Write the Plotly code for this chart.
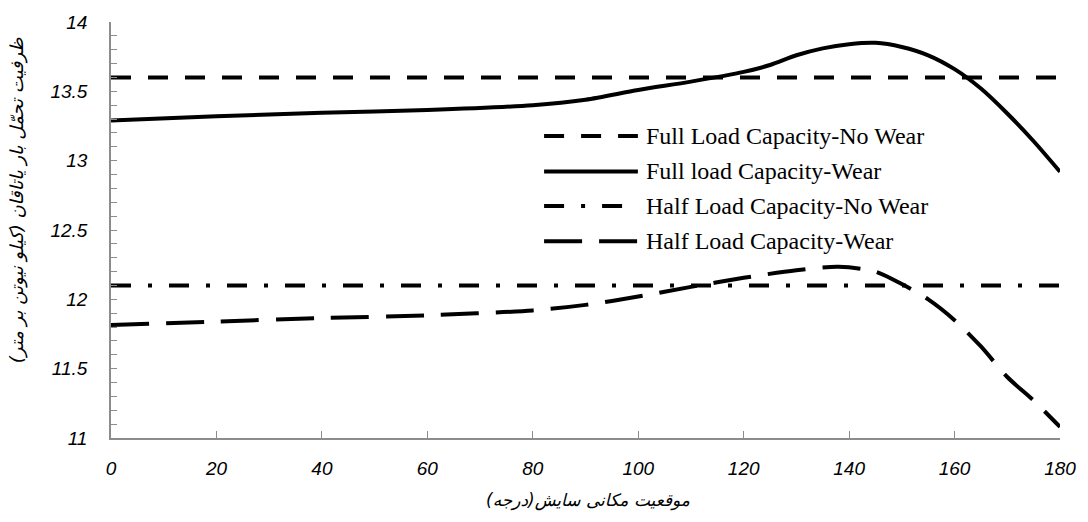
import plotly.graph_objects as go

# ---------------- data ----------------
angle_full_wear = [0, 20, 40, 60, 80, 90, 100, 110, 120, 125, 130, 135, 140, 145, 150, 155, 160, 165, 170, 175, 180]
cap_full_wear = [13.29, 13.32, 13.345, 13.365, 13.40, 13.44, 13.51, 13.57, 13.64, 13.69, 13.76, 13.81, 13.84, 13.85,
                 13.82, 13.76, 13.66, 13.52, 13.34, 13.14, 12.92]

angle_half_wear = [0, 20, 40, 60, 80, 90, 100, 110, 120, 130, 138, 145, 150, 155, 160, 165, 170, 175, 180]
cap_half_wear = [11.815, 11.84, 11.865, 11.885, 11.92, 11.96, 12.02, 12.09, 12.155, 12.21, 12.235, 12.20, 12.11,
                 12.00, 11.85, 11.66, 11.44, 11.27, 11.08]

angle_const = [0, 180]
cap_full_nowear = [13.6, 13.6]
cap_half_nowear = [12.1, 12.1]

series_names = ["Full Load Capacity-No Wear", "Full load Capacity-Wear",
                "Half Load Capacity-No Wear", "Half Load Capacity-Wear"]
x_ticks = [0, 20, 40, 60, 80, 100, 120, 140, 160, 180]
x_tick_text = ["0", "20", "40", "60", "80", "100", "120", "140", "160", "180"]
y_ticks = [11, 11.5, 12, 12.5, 13, 13.5, 14]
y_tick_text = ["11", "11.5", "12", "12.5", "13", "13.5", "14"]

x_title = "موقعیت مکانی سایش(درجه)"
y_title = "ظرفیت تحمّل بار یاتاقان (کیلو نیوتن بر متر)"

# ---------------- styles ----------------
LW = 4
dashes = ["20px,17px", "solid", "20px,17px,4px,17px", "38px,17px"]

fig = go.Figure()
fig.add_trace(go.Scatter(x=angle_const, y=cap_full_nowear, mode="lines", name=series_names[0],
                         line=dict(color="black", width=LW, dash=dashes[0])))
fig.add_trace(go.Scatter(x=angle_full_wear, y=cap_full_wear, mode="lines", name=series_names[1],
                         line=dict(color="black", width=LW, dash=dashes[1], shape="spline", smoothing=0.8)))
fig.add_trace(go.Scatter(x=angle_const, y=cap_half_nowear, mode="lines", name=series_names[2],
                         line=dict(color="black", width=LW, dash=dashes[2])))
fig.add_trace(go.Scatter(x=angle_half_wear, y=cap_half_wear, mode="lines", name=series_names[3],
                         line=dict(color="black", width=LW, dash=dashes[3], shape="spline", smoothing=0.8)))

W, H = 1088, 522
L, R, T, B = 111, 26, 15, 84
pw, ph = W - L - R, H - T - B


def px2paper_x(px):
    return (px - L) / pw


def px2paper_y(py):
    return (H - B - py) / ph


# custom legend (long samples like the reference)
row_y = [131, 167, 202, 238]
shapes = []
annotations = []
for i, name in enumerate(series_names):
    yy = px2paper_y(row_y[i])
    shapes.append(dict(type="line", xref="paper", yref="paper",
                       x0=px2paper_x(545), x1=px2paper_x(639), y0=yy, y1=yy,
                       line=dict(color="black", width=LW, dash=dashes[i])))
    annotations.append(dict(text=name, xref="paper", yref="paper", x=px2paper_x(645), y=yy,
                            xanchor="left", yanchor="middle", showarrow=False,
                            font=dict(family="Liberation Serif", size=24, color="black")))

annotations.append(dict(text="<i>" + y_title + "</i>", xref="paper", yref="paper",
                        x=px2paper_x(17), y=px2paper_y(196),
                        xanchor="center", yanchor="middle", textangle=-90, showarrow=False,
                        font=dict(family="DejaVu Sans", size=18, color="black")))
annotations.append(dict(text="<i>" + x_title + "</i>", xref="paper", yref="paper",
                        x=px2paper_x(589), y=px2paper_y(502),
                        xanchor="center", yanchor="middle", showarrow=False,
                        font=dict(family="DejaVu Sans", size=17, color="black")))

tickfont = dict(family="Liberation Sans", size=19, color="black")
axis_color = "#8c8c8c"

fig.update_layout(
    width=W, height=H,
    margin=dict(l=L, r=R, t=T, b=B),
    paper_bgcolor="white", plot_bgcolor="white",
    showlegend=False,
    shapes=shapes,
    annotations=annotations,
    xaxis=dict(range=[0, 180], tickvals=x_ticks, ticktext=["<i>" + t + "</i>" for t in x_tick_text],
               ticks="inside", ticklen=7, tickcolor=axis_color,
               tickwidth=1.3, showline=True, linecolor=axis_color, linewidth=1.5, showgrid=False,
               zeroline=False, tickfont=tickfont, ticklabelstandoff=12),
    yaxis=dict(range=[11, 14], tickvals=y_ticks, ticktext=["<i>" + t + "</i>" for t in y_tick_text],
               ticks="inside", ticklen=6,
               tickcolor=axis_color, tickwidth=1.3, showline=True, linecolor=axis_color, linewidth=1.5,
               showgrid=False, zeroline=False, tickfont=tickfont, ticklabelstandoff=18,
               minor=dict(dtick=0.1, ticks="inside", ticklen=6, tickcolor=axis_color, tickwidth=1.3,
                          showgrid=False)),
)

fig.write_html("out.html")
